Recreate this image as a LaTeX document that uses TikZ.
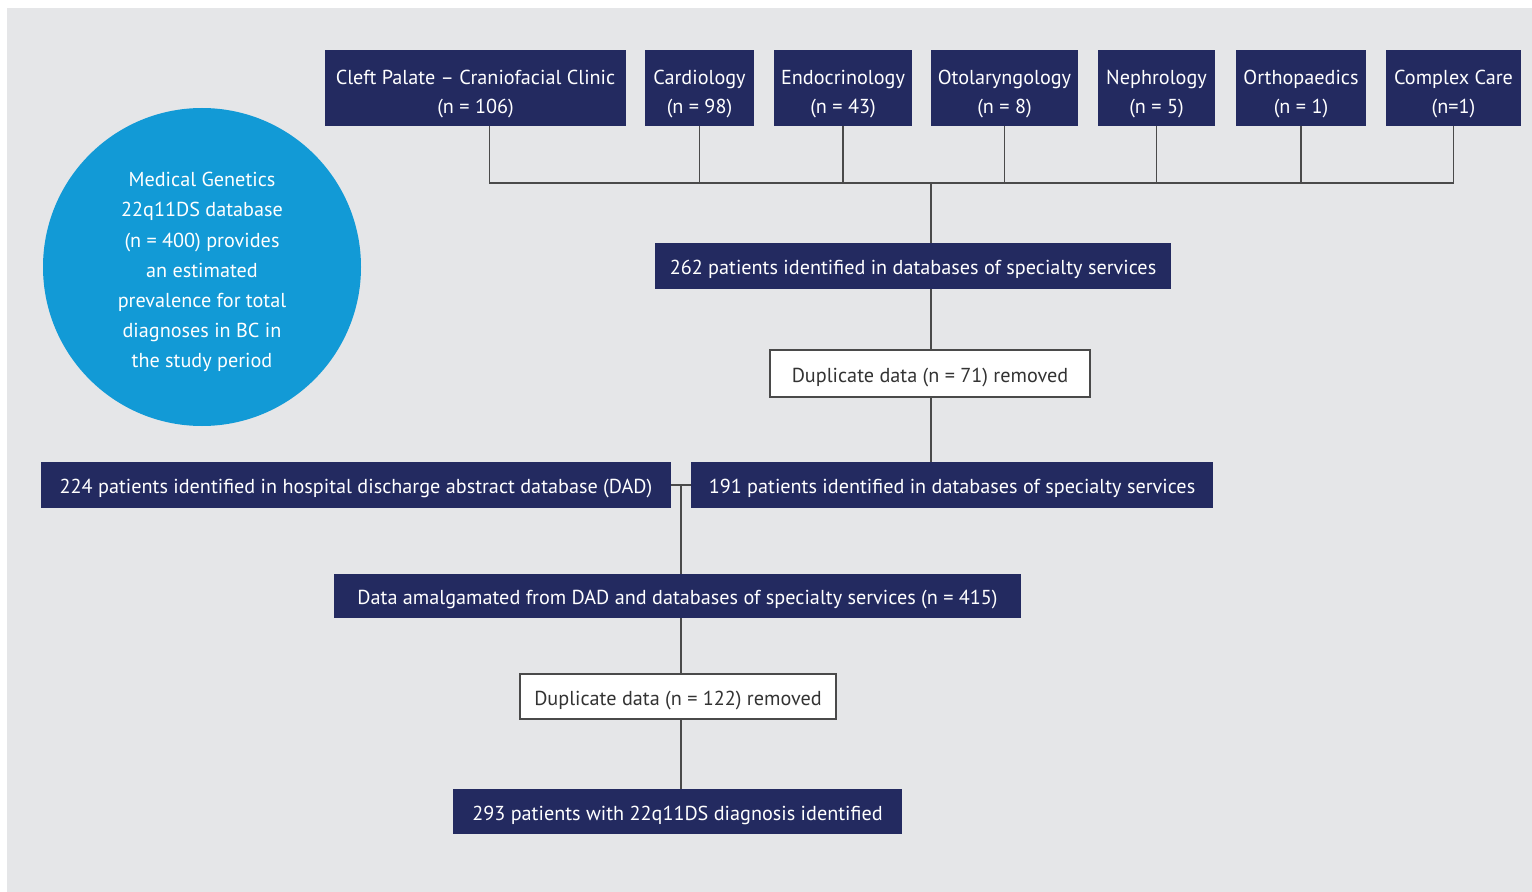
\documentclass[tikz,border=0pt]{standalone}
\usepackage{fontspec}
\setmainfont{PT Sans}
\usetikzlibrary{positioning, calc}
\definecolor{flownavy}{HTML}{232A60}
\definecolor{flowblue}{HTML}{129AD6}
\definecolor{flowback}{HTML}{E5E6E8}
\definecolor{flowline}{HTML}{4A4A4A}
\tikzstyle{service} = [rectangle, fill=flownavy, text=white, font=\fontsize{11.5}{17}\selectfont,
                       align=center, inner sep=0pt, text height=29.5pt, text depth=0pt]
\tikzstyle{stage} = [rectangle, fill=flownavy, text=white, font=\fontsize{11.5}{14}\selectfont,
                     align=center, inner sep=0pt, text height=12pt, text depth=2pt]
\tikzstyle{dropped} = [rectangle, fill=white, draw=flowline, line width=0.9pt, text=black!80,
                       font=\fontsize{11.5}{14}\selectfont, align=center, inner sep=0pt,
                       text height=12pt, text depth=2pt]
\tikzstyle{branch} = [flowline, line width=1.1pt]
\tikzstyle{trunk} = [flowline, line width=1.5pt]

\begin{document}
\begin{tikzpicture}[x=0.02cm, y=-0.02cm]
\useasboundingbox (0,0) rectangle (1532,892);
\fill[flowback] (7,8) rectangle (1532,892);

% Circle
\node[circle, fill=flowblue, text=white, minimum size=318*0.02cm, inner sep=0pt, align=center,
      font=\fontsize{11.5}{17.2}\selectfont, text height=114.9pt, text depth=0pt] (genetics) at (202,267)
  {Medical Genetics\\22q11DS database\\(n = 400) provides\\an estimated\\prevalence for total\\diagnoses in BC in\\the study period};

% Specialty services
\node[service, minimum width=301*0.02cm, minimum height=76*0.02cm] (cleft) at (475.5,88)
  {Cleft Palate -- Craniofacial Clinic\\(n = 106)};
\node[service, minimum width=109*0.02cm, minimum height=76*0.02cm] (cardio) at (699.5,88)
  {Cardiology\\(n = 98)};
\node[service, minimum width=138*0.02cm, minimum height=76*0.02cm] (endo) at (843,88)
  {Endocrinology\\(n = 43)};
\node[service, minimum width=147*0.02cm, minimum height=76*0.02cm] (oto) at (1004.5,88)
  {Otolaryngology\\(n = 8)};
\node[service, minimum width=117*0.02cm, minimum height=76*0.02cm] (nephro) at (1156.5,88)
  {Nephrology\\(n = 5)};
\node[service, minimum width=130*0.02cm, minimum height=76*0.02cm] (ortho) at (1301,88)
  {Orthopaedics\\(n = 1)};
\node[service, minimum width=135*0.02cm, minimum height=76*0.02cm] (complex) at (1453.5,88)
  {Complex Care\\(n=1)};

% Flow stages
\node[stage, minimum width=516*0.02cm, minimum height=46*0.02cm] (spec262) at (913,266)
  {262 patients identified in databases of specialty services};
\node[dropped, minimum width=320*0.02cm, minimum height=47*0.02cm] (dup71) at (930,373.5)
  {Duplicate data (n = 71) removed};
\node[stage, minimum width=522*0.02cm, minimum height=46*0.02cm] (spec191) at (952,485)
  {191 patients identified in databases of specialty services};
\node[stage, minimum width=630*0.02cm, minimum height=46*0.02cm] (dad) at (356,485)
  {224 patients identified in hospital discharge abstract database (DAD)};
\node[stage, minimum width=687*0.02cm, minimum height=44*0.02cm] (amal) at (677.5,596)
  {Data amalgamated from DAD and databases of specialty services (n = 415)};
\node[dropped, minimum width=316*0.02cm, minimum height=45*0.02cm] (dup122) at (678,696.5)
  {Duplicate data (n = 122) removed};
\node[stage, minimum width=449*0.02cm, minimum height=45*0.02cm] (final) at (677.5,811.5)
  {293 patients with 22q11DS diagnosis identified};

% Connectors
\coordinate (hub) at (931,183);
\coordinate (join) at (681,485);
\draw[branch] ([xshift=14*0.02cm]cleft.south) |- (hub) -| (complex.south);
\foreach \svc in {cardio, endo, oto, nephro, ortho}
  \draw[branch] (\svc.south) -- (\svc.south |- hub);
\draw[trunk] (hub) -- (hub |- spec262.north);
\draw[trunk] (spec262.south -| hub) -- (dup71.north -| hub);
\draw[trunk] (dup71.south -| hub) -- (spec191.north -| hub);
\draw[branch] (dad.east) -- (spec191.west);
\draw[trunk] (join) -- (join |- amal.north);
\draw[trunk] (amal.south -| join) -- (dup122.north -| join);
\draw[trunk] (dup122.south -| join) -- (final.north -| join);

\end{tikzpicture}
\end{document}
